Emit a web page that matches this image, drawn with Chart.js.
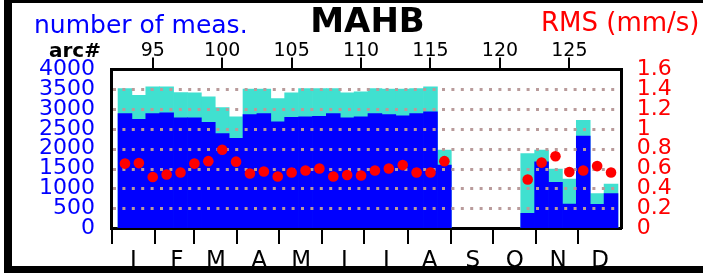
<!DOCTYPE html>
<html lang="en">
<head>
  <meta charset="UTF-8">
  <title>MAHB</title>
  <script src="https://cdn.jsdelivr.net/npm/chart.js"></script>
  <style>
    body { margin: 0; background: #fff; }
    #wrap { position: relative; width: 703px; height: 275px; overflow: hidden; background: #fff; }
    #frame { position: absolute; left: 4px; top: 0; width: 760px; height: 263px;
             border-left: 8px solid #000; border-top: 3px solid #000; border-bottom: 7px solid #000; }
    #lineChart { position: absolute; left: 0; top: 0; }
    .lbl { position: absolute; font-family: "DejaVu Sans"; line-height: 1; white-space: nowrap; }
  </style>
</head>
<body>
<div id="wrap">
  <div id="frame"></div>
  <canvas id="lineChart" width="703" height="275"></canvas>
  <div class="lbl" style="left:34px; top:12px; font-size:25px; color:#0000ff;">number of meas.</div>
  <div class="lbl" style="left:541px; top:8.5px; font-size:26px; color:#ff0000;">RMS (mm/s)</div>
  <div class="lbl" style="left:267px; width:201px; text-align:center; top:3px; font-size:34px; font-weight:bold; color:#000;">MAHB</div>
  <div class="lbl" style="left:49px; top:40px; font-size:20px; font-weight:bold; color:#000;">arc#</div>
</div>

<script>
  // arc numbers with data
  const arcs = [93, 94, 95, 96, 97, 98, 99, 100, 101, 102, 103, 104, 105, 106, 107, 108,
                109, 110, 111, 112, 113, 114, 115, 116, 122, 123, 124, 125, 126, 127, 128];
  // number of measurements (all / used)
  const totalMeas = [3520, 3350, 3560, 3560, 3420, 3410, 3310, 3040, 2805, 3505, 3505, 3265, 3410, 3520, 3520, 3520,
                     3410, 3435, 3520, 3505, 3505, 3520, 3565, 1965, 1880, 1965, 1490, 1235, 2720, 870, 1110];
  const usedMeas = [2890, 2740, 2890, 2905, 2780, 2780, 2665, 2385, 2260, 2865, 2890, 2680, 2790, 2805, 2820, 2890,
                    2780, 2805, 2890, 2865, 2830, 2890, 2930, 1590, 370, 1670, 1150, 605, 2320, 600, 870];
  // RMS (mm/s)
  const rmsValues = [0.65, 0.655, 0.515, 0.54, 0.56, 0.65, 0.675, 0.79, 0.67, 0.55, 0.57, 0.52, 0.56, 0.58, 0.6, 0.52,
                     0.535, 0.53, 0.58, 0.6, 0.635, 0.56, 0.56, 0.675, 0.49, 0.66, 0.725, 0.565, 0.58, 0.625, 0.56];

  const arcTicks = [95, 100, 105, 110, 115, 120, 125];
  const monthStarts = [0, 31, 59, 90, 120, 151, 181, 212, 243, 273, 304, 334];
  const monthLabels = ['J', 'F', 'M', 'A', 'M', 'J', 'J', 'A', 'S', 'O', 'N', 'D'];

  // dotted grid drawn over the bars, under the RMS dots
  const gridDots = {
    id: 'gridDots',
    beforeDatasetDraw(chart, args) {
      if (args.index !== 0) return;
      const {ctx, chartArea} = chart;
      const y = chart.scales.y;
      ctx.save();
      ctx.strokeStyle = '#b99b9b';
      ctx.lineWidth = 3;
      ctx.setLineDash([3, 6.4]);
      y.ticks.forEach(t => {
        if (t.value <= 0 || t.value >= 4000) return;
        const py = Math.round(y.getPixelForValue(t.value)) + 0.5;
        ctx.beginPath();
        ctx.moveTo(chartArea.left + 1.5, py);
        ctx.lineTo(chartArea.right - 1.5, py);
        ctx.stroke();
      });
      ctx.restore();
    }
  };

  const font = (size, weight) => ({family: 'DejaVu Sans', size: size, weight: weight || 'normal'});

  new Chart(document.getElementById('lineChart'), {
    type: 'bar',
    data: {
      datasets: [
        {
          type: 'line',
          label: 'RMS',
          data: arcs.map((a, i) => ({x: a, y: rmsValues[i]})),
          xAxisID: 'x',
          yAxisID: 'y2',
          showLine: false,
          pointRadius: 5.3,
          pointBackgroundColor: '#ff0000',
          pointBorderWidth: 0,
          order: 0
        },
        {
          label: 'used',
          data: arcs.map((a, i) => ({x: a, y: usedMeas[i]})),
          xAxisID: 'x',
          yAxisID: 'y',
          backgroundColor: '#0000ff',
          borderWidth: 0,
          grouped: false,
          barPercentage: 1,
          categoryPercentage: 1,
          order: 1
        },
        {
          label: 'total',
          data: arcs.map((a, i) => ({x: a, y: totalMeas[i]})),
          xAxisID: 'x',
          yAxisID: 'y',
          backgroundColor: '#40e0d0',
          borderWidth: 0,
          grouped: false,
          barPercentage: 1,
          categoryPercentage: 1,
          order: 2
        }
      ]
    },
    options: {
      responsive: false,
      animation: false,
      devicePixelRatio: 1,
      layout: {padding: 0},
      plugins: {legend: {display: false}, tooltip: {enabled: false}},
      scales: {
        x: {
          type: 'linear',
          position: 'top',
          offset: false,
          min: 92.03,
          max: 128.74,
          afterBuildTicks: s => { s.ticks = arcTicks.map(v => ({value: v})); },
          afterFit: s => { s.height = 69.5; },
          grid: {offset: false, drawOnChartArea: false, drawTicks: true, tickLength: 12, color: '#000', lineWidth: 2},
          border: {color: '#000', width: 3},
          ticks: {color: '#000', font: font(19), padding: -5, maxRotation: 0, autoSkip: false,
                  callback: v => String(v)}
        },
        xm: {
          type: 'linear',
          position: 'bottom',
          offset: false,
          min: 0,
          max: 365,
          z: 1,
          afterBuildTicks: s => { s.ticks = monthStarts.map(v => ({value: v})); },
          afterFit: s => { s.height = 47; },
          grid: {offset: false, drawOnChartArea: false, drawTicks: true, tickLength: 16, color: '#000', lineWidth: 2},
          border: {color: '#000', width: 3},
          ticks: {
            color: '#000', font: font(23), padding: 3, labelOffset: 22, maxRotation: 0, autoSkip: false,
            callback: (v, i) => monthLabels[i]
          }
        },
        y: {
          position: 'left',
          min: 0,
          max: 4000,
          afterFit: s => { s.width = 111.5; },
          grid: {display: false, drawTicks: false},
          border: {color: '#000', width: 3},
          ticks: {stepSize: 500, color: '#0000ff', font: font(22), padding: 16.5, autoSkip: false,
                  callback: v => String(v)}
        },
        y2: {
          position: 'right',
          min: 0,
          max: 1.6,
          afterFit: s => { s.width = 81.7; },
          grid: {display: false, drawTicks: false},
          border: {color: '#000', width: 3},
          ticks: {
            stepSize: 0.2, color: '#ff0000', font: font(22), padding: 15.4, autoSkip: false,
            callback: v => String(Math.round(v * 10) / 10)
          }
        }
      }
    },
    plugins: [gridDots]
  });
</script>
</body>
</html>
